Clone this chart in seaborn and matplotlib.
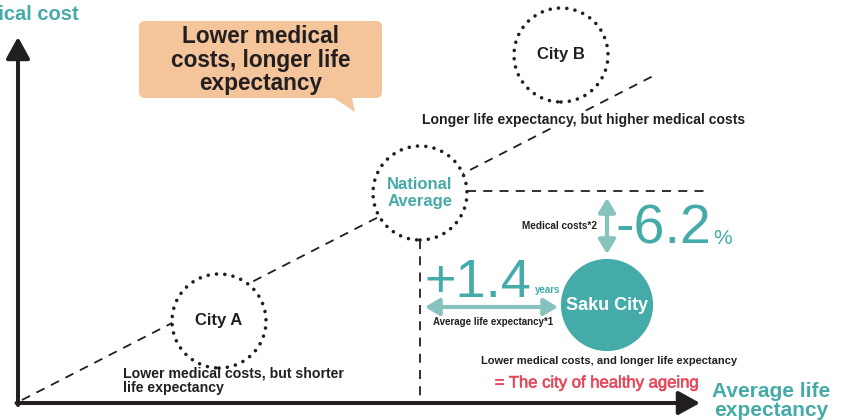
import matplotlib
matplotlib.use("Agg")
import matplotlib.pyplot as plt
import matplotlib.patheffects as pe
from matplotlib.patches import Circle, FancyBboxPatch, Polygon
import pandas as pd
import seaborn as sns

# Concept chart: position of each city (life expectancy -> x, medical cost -> y)
cities = ["City A", "National\nAverage", "City B"]
city_life = [219, 420, 561]
city_cost = [99, 227, 365]
saku_life = [607]
saku_cost = [115]

# Dashed trend line (life expectancy vs medical cost)
trend_life = [22, 655]
trend_cost = [20, 345]

life_gain = "+1.4"
cost_cut = "-6.2"

TEAL = "#45aba8"
LIGHT_TEAL = "#86c3bf"
DARK = "#231f20"
RED = "#e8475a"
ORANGE = "#f4c49b"

sns.set_theme(style="white")
plt.rcParams["font.family"] = ["Liberation Sans", "DejaVu Sans"]

fig = plt.figure(figsize=(8.43, 4.2), dpi=100)
ax = fig.add_axes([0, 0, 1, 1])

# trend line
trend = pd.DataFrame({"life": trend_life, "cost": trend_cost})
sns.lineplot(data=trend, x="life", y="cost", ax=ax, color=DARK, lw=1.3,
             linestyle=(0, (5, 4)), zorder=1)

# reference lines from national average
nat_x, nat_y = city_life[1], city_cost[1]
ax.plot([nat_x + 47, 710], [nat_y + 2, nat_y + 2], color=DARK, lw=1.3,
        linestyle=(0, (5, 4)), zorder=1)
ax.plot([nat_x, nat_x], [nat_y - 47, 20], color=DARK, lw=1.3,
        linestyle=(0, (5, 4)), zorder=1)

# axes arrows
ax.annotate("", xy=(18, 383), xytext=(18, 15),
            arrowprops=dict(arrowstyle="-|>,head_length=0.65,head_width=0.36",
                            lw=2.9, color=DARK, mutation_scale=20,
                            shrinkA=0, shrinkB=0), zorder=4)
ax.annotate("", xy=(700, 17), xytext=(16.5, 17),
            arrowprops=dict(arrowstyle="-|>,head_length=0.65,head_width=0.36",
                            lw=2.9, color=DARK, mutation_scale=20,
                            shrinkA=0, shrinkB=0), zorder=4)

# dotted city circles
for name, x, y in zip(cities, city_life, city_cost):
    ax.add_patch(Circle((x, y), 47, facecolor="white", edgecolor="none", zorder=3))
    ring = Circle((x, y), 47, fill=False, edgecolor=DARK, lw=2.6,
                  linestyle=(0, (0.01, 2.3)), zorder=3)
    ring.set_capstyle("round")
    ax.add_patch(ring)
    col = TEAL if "National" in name else DARK
    ax.text(x, y, name, ha="center", va="center", fontsize=12,
            fontweight="bold", color=col, linespacing=1.15, zorder=5)

# Saku City
saku = pd.DataFrame({"life": saku_life, "cost": saku_cost})
sns.scatterplot(data=saku, x="life", y="cost", ax=ax, s=4400, color=TEAL,
                edgecolor="none", zorder=3, legend=False)
ax.text(saku_life[0], saku_cost[0], "Saku City", ha="center", va="center",
        fontsize=13, fontweight="bold", color="white", zorder=5)

ax.set_xlim(0, 843)
ax.set_ylim(0, 420)
ax.axis("off")

# difference arrows
ax.annotate("", xy=(558, 113), xytext=(425, 113),
            arrowprops=dict(arrowstyle="<|-|>,head_length=0.6,head_width=0.36",
                            lw=3, color=LIGHT_TEAL, mutation_scale=14,
                            shrinkA=0, shrinkB=0))
ax.annotate("", xy=(607, 222), xytext=(607, 166),
            arrowprops=dict(arrowstyle="<|-|>,head_length=0.6,head_width=0.36",
                            lw=3, color=LIGHT_TEAL, mutation_scale=14,
                            shrinkA=0, shrinkB=0))

ax.text(424, 123, life_gain, ha="left", va="baseline", fontsize=39,
        color=TEAL)
ax.text(535, 127, "years", ha="left", va="baseline", fontsize=7,
        fontweight="bold", color=TEAL)
ax.text(493, 98, "Average life expectancy*1", ha="center", va="center",
        fontsize=7, fontweight="bold", color=DARK)

ax.text(616, 177, cost_cut, ha="left", va="baseline", fontsize=40,
        color=TEAL)
ax.text(713, 176, "%", ha="left", va="baseline", fontsize=15, color=TEAL)
ax.text(597, 194, "Medical costs*2", ha="right", va="center", fontsize=7.2,
        fontweight="bold", color=DARK)

# annotations
ax.text(584, 300, "Longer life expectancy, but higher medical costs",
        ha="center", va="center", fontsize=10.1, fontweight="bold", color=DARK,
        bbox=dict(facecolor="white", edgecolor="none", pad=1), zorder=2)
ax.text(123, 39, "Lower medical costs, but shorter\nlife expectancy",
        ha="left", va="center", fontsize=10.2, fontweight="bold", color=DARK,
        linespacing=1.0, zorder=2)
ax.text(609, 59, "Lower medical costs, and longer life expectancy",
        ha="center", va="center", fontsize=8, fontweight="bold", color=DARK)
ax.text(597, 37, "= The city of healthy ageing", ha="center", va="center",
        fontsize=12, color=RED,
        path_effects=[pe.withStroke(linewidth=0.4, foreground=RED)])

# axis titles
ax.text(79, 406, "Medical cost", ha="right", va="center", fontsize=14.5,
        fontweight="bold", color=TEAL)
ax.text(771, 19, "Average life\nexpectancy", ha="center", va="center",
        fontsize=15, fontweight="bold", color=TEAL, linespacing=0.95)

# callout box
box = FancyBboxPatch((139, 322), 243, 77, boxstyle="round,pad=0,rounding_size=6",
                     facecolor=ORANGE, edgecolor="none", zorder=2)
ax.add_patch(box)
ax.add_patch(Polygon([(334, 322), (352, 322), (355, 308)], closed=True,
                     facecolor=ORANGE, edgecolor="none", zorder=2))
ax.text(261, 360, "Lower medical\ncosts, longer life\nexpectancy", ha="center",
        va="center", fontsize=16.3, fontweight="bold", color=DARK,
        linespacing=1.02, zorder=3)

fig.savefig("out.png", dpi=100)
